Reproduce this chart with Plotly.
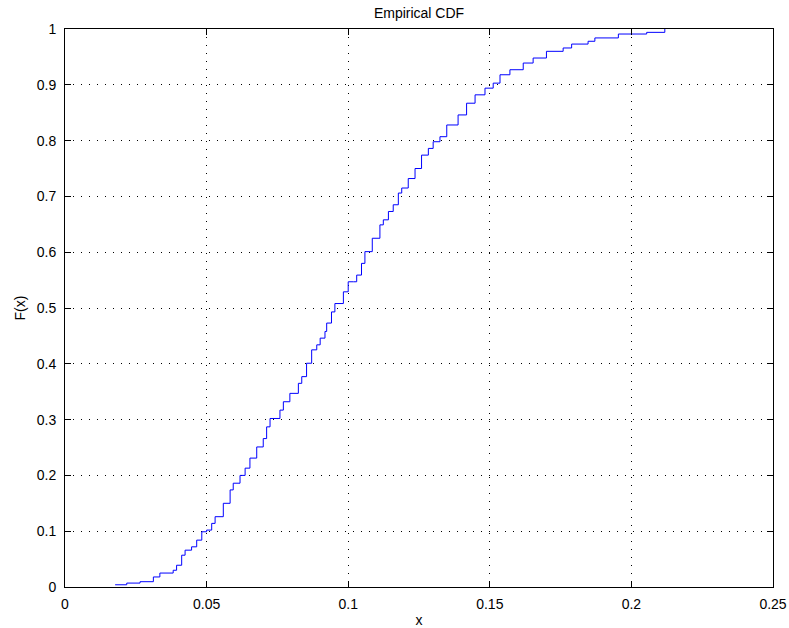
import plotly.graph_objects as go

# Empirical CDF points (step function)
x_vals = [0.0177, 0.0218, 0.0265, 0.0312, 0.0335, 0.0382, 0.0394, 0.0412, 0.0424, 0.0447,
          0.0465, 0.0483, 0.0500, 0.0518, 0.0530, 0.0559, 0.0583, 0.0594, 0.0618, 0.0636,
          0.0653, 0.0677, 0.0700, 0.0712, 0.0724, 0.0759, 0.0771, 0.0794, 0.0824, 0.0836,
          0.0853, 0.0871, 0.0889, 0.0901, 0.0918, 0.0924, 0.0941, 0.0953, 0.0983, 0.1000,
          0.1018, 0.1030, 0.1047, 0.1059, 0.1085, 0.1112, 0.1124, 0.1142, 0.1159, 0.1177,
          0.1189, 0.1212, 0.1236, 0.1259, 0.1283, 0.1300, 0.1324, 0.1348, 0.1388, 0.1418,
          0.1448, 0.1483, 0.1512, 0.1536, 0.1571, 0.1618, 0.1653, 0.1700, 0.1759, 0.1789,
          0.1847, 0.1871, 0.1954, 0.2054, 0.2118]
f_vals = [0.004, 0.007, 0.0095, 0.018, 0.025, 0.030, 0.039, 0.057, 0.066, 0.072,
          0.084, 0.099, 0.102, 0.114, 0.126, 0.150, 0.174, 0.186, 0.200, 0.213,
          0.231, 0.251, 0.266, 0.287, 0.302, 0.317, 0.332, 0.347, 0.365, 0.377,
          0.401, 0.425, 0.434, 0.446, 0.458, 0.473, 0.493, 0.508, 0.529, 0.547,
          0.547, 0.559, 0.580, 0.601, 0.625, 0.649, 0.658, 0.673, 0.685, 0.706,
          0.715, 0.732, 0.750, 0.774, 0.786, 0.798, 0.807, 0.828, 0.846, 0.867,
          0.882, 0.894, 0.903, 0.918, 0.927, 0.939, 0.948, 0.960, 0.966, 0.973,
          0.978, 0.984, 0.991, 0.994, 1.000]

x_ticks = [0, 0.05, 0.1, 0.15, 0.2, 0.25]
x_tick_labels = ["0", "0.05", "0.1", "0.15", "0.2", "0.25"]
y_ticks = [0, 0.1, 0.2, 0.3, 0.4, 0.5, 0.6, 0.7, 0.8, 0.9, 1]
y_tick_labels = ["0", "0.1", "0.2", "0.3", "0.4", "0.5", "0.6", "0.7", "0.8", "0.9", "1"]

FONT = "Liberation Sans, Arial, Helvetica, sans-serif"
FS = 14

fig = go.Figure()
fig.add_trace(go.Scatter(x=x_vals, y=f_vals, mode="lines", line_shape="hv",
                         line=dict(color="rgb(0,0,255)", width=1), showlegend=False,
                         hoverinfo="skip"))

axis_common = dict(showline=True, linecolor="black", linewidth=1, mirror="ticks",
                   ticks="inside", ticklen=6, tickcolor="black", tickwidth=1,
                   showgrid=True, gridcolor="black", griddash="1px,7px", gridwidth=1,
                   zeroline=False, automargin=False,
                   tickfont=dict(family=FONT, size=FS, color="black"))

fig.update_xaxes(range=[0, 0.25], tickvals=x_ticks, ticktext=x_tick_labels,
                 title=dict(text="x", font=dict(family=FONT, size=FS, color="black"), standoff=8),
                 ticklabelstandoff=4, **axis_common)
fig.update_yaxes(range=[0, 1], tickvals=y_ticks, ticktext=y_tick_labels,
                 title=dict(text="F(x)", font=dict(family=FONT, size=FS, color="black"), standoff=7),
                 ticklabelstandoff=5, **axis_common)

fig.update_layout(
    width=789, height=628,
    margin=dict(l=65, r=16, t=29, b=41, pad=0, autoexpand=False),
    paper_bgcolor="white", plot_bgcolor="white",
    title=dict(text="Empirical CDF", x=0.5, xref="paper", xanchor="center",
               y=1 - 13 / 628, yref="container", yanchor="middle", automargin=False,
               font=dict(family=FONT, size=FS, color="black")),
    font=dict(family=FONT, size=FS, color="black"),
)

fig.write_html("out.html", config={"displayModeBar": False},
               post_script="document.body.style.margin='0';document.body.style.overflow='hidden';")
